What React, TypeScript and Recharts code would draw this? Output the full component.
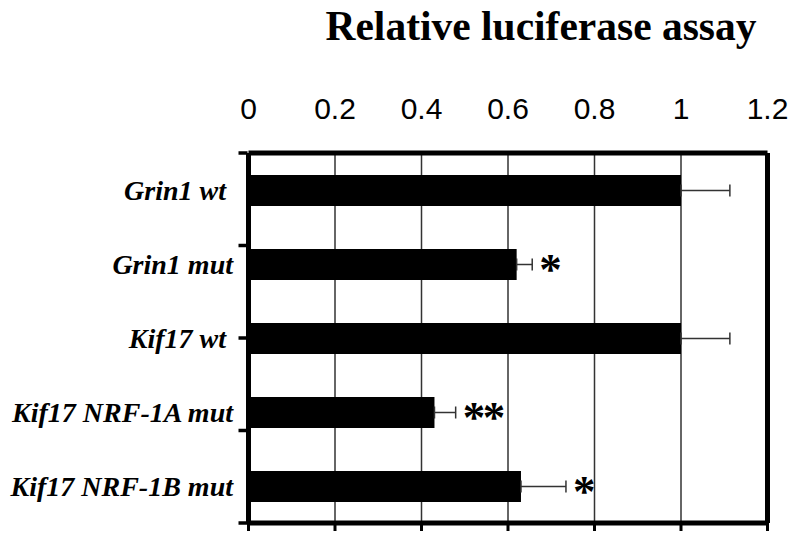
import React from "react";
import {
  BarChart,
  Bar,
  XAxis,
  YAxis,
  CartesianGrid,
  ErrorBar,
  LabelList,
} from "recharts";

const categories = ["Grin1 wt ", "Grin1 mut", "Kif17 wt ", "Kif17 NRF-1A mut", "Kif17 NRF-1B mut"];
const values = [1.0, 0.62, 1.0, 0.43, 0.63];
const errors = [0.113, 0.036, 0.113, 0.049, 0.104];
const marks = ["", "*", "", "**", "*"];
const xTicks = [0, 0.2, 0.4, 0.6, 0.8, 1, 1.2];
const edgeTicks = [0, 1, 2, 3, 4, 5];

const data = categories.map((name, i) => ({
  name,
  value: values[i],
  err: [0, errors[i]],
  hi: values[i] + errors[i],
  mark: marks[i],
}));

const serif = "'Liberation Serif', 'Times New Roman', serif";
const sans = "'Liberation Sans', Arial, sans-serif";

const CategoryTick = (props: any) => {
  const { x, y, payload } = props;
  return (
    <text
      x={x}
      y={y}
      dy="0.35em"
      textAnchor="end"
      fontFamily={serif}
      fontWeight="bold"
      fontStyle="italic"
      fontSize={28}
      fill="#000"
      style={{ whiteSpace: "pre" }}
    >
      {payload.value}
    </text>
  );
};

const MarkLabel = (props: any) => {
  const { x, y, width, height, index } = props;
  const row = data[index];
  if (!row || !row.mark) return null;
  // end of the error whisker, from the bar's own length
  const errEnd = x + (width * row.hi) / row.value;
  return (
    <text
      x={errEnd + 7}
      y={y + height / 2 + 19}
      fontFamily={serif}
      fontWeight="bold"
      fontSize={45}
      letterSpacing={-2.5}
      fill="#000"
    >
      {row.mark}
    </text>
  );
};

export default function App() {
  return (
    <div style={{ position: "relative", width: 800, height: 541, background: "#fff" }}>
      <style>{"body{margin:0}"}</style>
      <svg width={800} height={60} style={{ position: "absolute", left: 0, top: 0 }}>
        <text
          x={541}
          y={40}
          textAnchor="middle"
          fontFamily={serif}
          fontWeight="bold"
          fontSize={41.5}
          fill="#000"
        >
          Relative luciferase assay
        </text>
      </svg>
      <BarChart
        width={800}
        height={541}
        data={data}
        layout="vertical"
        barCategoryGap={0}
        margin={{ top: 93, right: 31.5, bottom: 17, left: 0 }}
      >
        <CartesianGrid
          xAxisId="top"
          yAxisId="cat"
          horizontal={false}
          stroke="#333"
          strokeWidth={1.5}
        />
        <XAxis
          xAxisId="top"
          type="number"
          orientation="top"
          domain={[0, 1.2]}
          ticks={xTicks}
          height={60}
          axisLine={{ stroke: "#000", strokeWidth: 5 }}
          tickLine={false}
          tickMargin={28}
          tick={{ fontFamily: sans, fontSize: 30, fill: "#000" }}
        />
        <XAxis
          xAxisId="bottom"
          type="number"
          dataKey="value"
          orientation="bottom"
          domain={[0, 1.2]}
          allowDataOverflow
          ticks={xTicks}
          interval={0}
          height={1}
          axisLine={{ stroke: "#000", strokeWidth: 5 }}
          tickLine={{ stroke: "#000", strokeWidth: 3 }}
          tickSize={8}
          tickFormatter={() => ""}
        />
        <YAxis
          yAxisId="cat"
          type="category"
          dataKey="name"
          width={1}
          axisLine={{ stroke: "#000", strokeWidth: 5 }}
          tickLine={false}
          tickSize={6}
          tickMargin={9.5}
          tick={<CategoryTick />}
          interval={0}
        />
        <YAxis
          yAxisId="edges"
          type="number"
          orientation="left"
          domain={[0, 5]}
          ticks={edgeTicks}
          interval={0}
          width={247.5}
          axisLine={false}
          tickLine={{ stroke: "#000", strokeWidth: 3.5 }}
          tickSize={9}
          tickFormatter={() => ""}
        />
        <YAxis
          yAxisId="right"
          type="number"
          orientation="right"
          domain={[0, 5]}
          width={1}
          axisLine={{ stroke: "#000", strokeWidth: 5 }}
          tickLine={false}
          tick={false}
        />
        <Bar
          xAxisId="top"
          yAxisId="cat"
          dataKey="value"
          fill="#000"
          barSize={31}
          isAnimationActive={false}
        >
          <ErrorBar
            dataKey="err"
            direction="x"
            width={6}
            stroke="#333"
            strokeWidth={1.5}
            isAnimationActive={false}
          />
          <LabelList dataKey="mark" content={<MarkLabel />} />
        </Bar>
      </BarChart>
    </div>
  );
}
